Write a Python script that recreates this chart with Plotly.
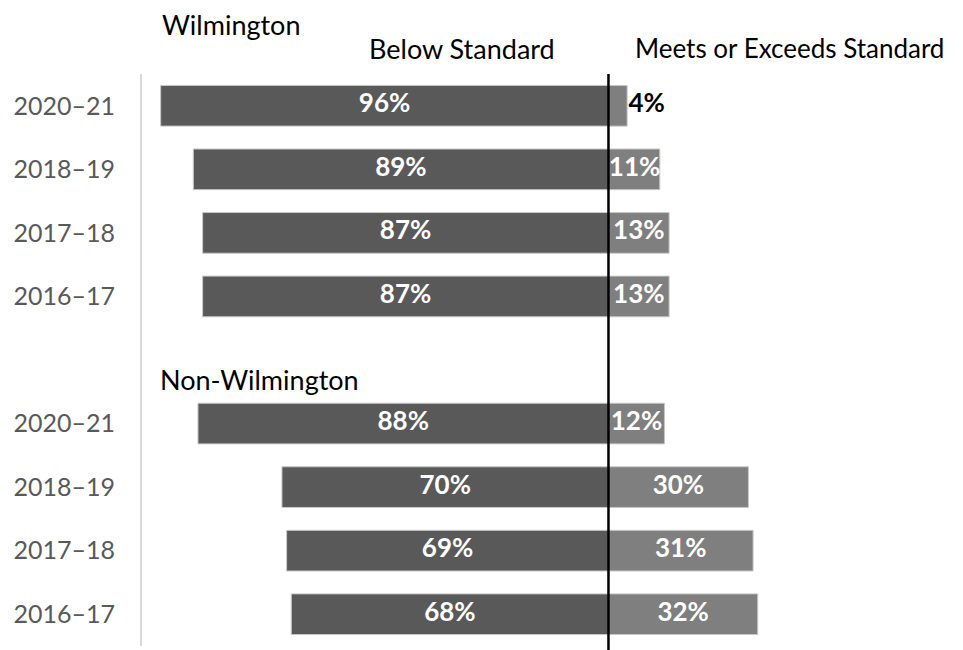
import plotly.graph_objects as go

years = ["2020–21", "2018–19", "2017–18", "2016–17"]
wilm_below = [96, 89, 87, 87]
wilm_meets = [4, 11, 13, 13]
nonwilm_below = [88, 70, 69, 68]
nonwilm_meets = [12, 30, 31, 32]
group_titles = ["Wilmington", "Non-Wilmington"]
header_below = "Below Standard"
header_meets = "Meets or Exceeds Standard"

below = wilm_below + nonwilm_below
meets = wilm_meets + nonwilm_meets
labels = years + years
# slot positions: 4 rows, one empty slot, 4 rows
ypos = list(range(4)) + list(range(5, 9))

DARK = "#595959"
LIGHT = "#7f7f7f"
EDGE = "#c8c8c8"
FONT = "Lato, 'Open Sans', sans-serif"
FS = 26

fig = go.Figure()
fig.add_trace(go.Bar(
    y=ypos, x=[-v for v in below], orientation="h",
    marker=dict(color=DARK, line=dict(color=EDGE, width=1)),
    width=0.64, hoverinfo="skip", showlegend=False,
))
fig.add_trace(go.Bar(
    y=ypos, x=meets, orientation="h",
    marker=dict(color=LIGHT, line=dict(color=EDGE, width=1)),
    width=0.64, hoverinfo="skip", showlegend=False,
))

# labels for below bars (centered)
fig.add_trace(go.Scatter(
    y=ypos, x=[-v / 2 for v in below], mode="text",
    text=[f"<b>{v}%</b>" for v in below],
    textfont=dict(color="white", size=FS, family=FONT),
    hoverinfo="skip", showlegend=False,
))
# labels for meets bars: inside if large enough, else outside in black
in_y, in_x, in_t = [], [], []
out_y, out_x, out_t = [], [], []
for y, v in zip(ypos, meets):
    if v >= 10:
        in_y.append(y); in_x.append(max(v / 2, 5.6)); in_t.append(f"<b>{v}%</b>")
    else:
        out_y.append(y); out_x.append(v + 0.3); out_t.append(f"<b>{v}%</b>")
fig.add_trace(go.Scatter(
    y=in_y, x=in_x, mode="text", text=in_t,
    textfont=dict(color="white", size=FS, family=FONT),
    hoverinfo="skip", showlegend=False,
))
fig.add_trace(go.Scatter(
    y=out_y, x=out_x, mode="text", text=out_t, textposition="middle right",
    textfont=dict(color="black", size=FS, family=FONT),
    hoverinfo="skip", showlegend=False,
))

# center line
fig.add_shape(type="line", xref="x", yref="paper", x0=0, x1=0, y0=-0.01, y1=1.0,
              line=dict(color="black", width=2.5))

big = dict(size=27, color="black", family=FONT)
fig.add_annotation(text=group_titles[0], xref="x", yref="paper", x=-96.2, y=1.0,
                   yshift=50, xanchor="left", yanchor="middle", showarrow=False, font=big)
fig.add_annotation(text=group_titles[1], xref="x", yref="y", x=-96.6, y=4.3,
                   xanchor="left", yanchor="middle", showarrow=False, font=big)
fig.add_annotation(text=header_below, xref="x", yref="paper", x=-31.3, y=1.0, yshift=26,
                   xanchor="center", yanchor="middle", showarrow=False, font=big)
fig.add_annotation(text=header_meets, xref="x", yref="paper", x=38.8, y=1.0, yshift=26,
                   xanchor="center", yanchor="middle", showarrow=False,
                   font=dict(size=26, color="black", family=FONT))

fig.update_layout(
    width=955, height=642,
    margin=dict(l=134, r=28, t=66, b=4, autoexpand=False),
    paper_bgcolor="white", plot_bgcolor="white",
    barmode="relative",
    font=dict(family=FONT),
)
fig.update_xaxes(range=[-100, 70], visible=False, showgrid=False, zeroline=False,
                 automargin=False)
fig.update_yaxes(
    range=[8.5, -0.5], tickvals=ypos, ticktext=labels,
    showgrid=False, zeroline=False, automargin=False,
    showline=True, linecolor="#d9d9d9", linewidth=2,
    ticks="", ticklabelstandoff=20,
    tickfont=dict(size=25, color="#595959", family=FONT),
)

fig.write_html("out.html")
